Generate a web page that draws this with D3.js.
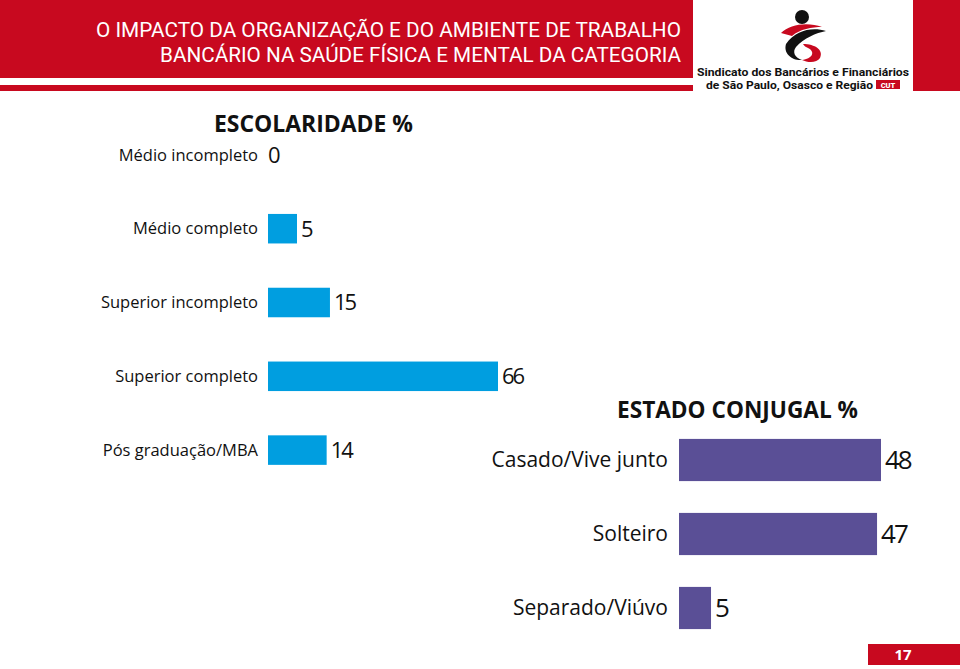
<!DOCTYPE html>
<html><head><meta charset="utf-8">
<script src="https://cdn.jsdelivr.net/npm/d3@7"></script>
<style>body{margin:0;background:#fff}svg{display:block}</style>
</head><body><svg id="c" width="960" height="669"></svg>
<script>
// ---- data ----
const headerLines = ["O IMPACTO DA ORGANIZAÇÃO E DO AMBIENTE DE TRABALHO", "BANCÁRIO NA SAÚDE FÍSICA E MENTAL DA CATEGORIA"];
const logoLines = ["Sindicato dos Bancários e Financiários", "de São Paulo, Osasco e Região"];
const eduTitle = "ESCOLARIDADE %";
const eduCategories = ["Médio incompleto", "Médio completo", "Superior incompleto", "Superior completo", "Pós graduação/MBA"];
const eduValues = [0, 5, 15, 66, 14];
const maritalTitle = "ESTADO CONJUGAL %";
const maritalCategories = ["Casado/Vive junto", "Solteiro", "Separado/Viúvo"];
const maritalValues = [48, 47, 5];
const pageNumber = "17";

const RED = "#c8091f", BLUE = "#009ee0", PURPLE = "#5a4f96";
const svg = d3.select("#c");
svg.append("rect").attr("width", 960).attr("height", 669).attr("fill", "#fff");

// ---- header ----
svg.append("rect").attr("x", 0).attr("y", 0).attr("width", 693).attr("height", 78).attr("fill", RED);
svg.append("rect").attr("x", 0).attr("y", 85).attr("width", 693).attr("height", 6).attr("fill", RED);
svg.append("rect").attr("x", 913).attr("y", 0).attr("width", 47).attr("height", 91).attr("fill", RED);
const hdrLen = [585, 521];
svg.selectAll("text.hdr").data(headerLines).join("text")
  .attr("class", "hdr")
  .attr("x", 681).attr("y", (d, i) => 37 + i * 25)
  .attr("text-anchor", "end")
  .attr("fill", "#fff")
  .attr("font-family", "Roboto, sans-serif")
  .attr("font-weight", 400)
  .attr("font-size", 20.5)
  .attr("textLength", (d, i) => hdrLen[i])
  .attr("lengthAdjust", "spacingAndGlyphs")
  .text(d => d);

// ---- logo ----
const logo = svg.append("g");
logo.append("circle").attr("cx", 802).attr("cy", 17).attr("r", 7).attr("fill", "#111");
logo.append("path").attr("fill", RED)
  .attr("d", "M781,33 C790,24 808,22 822,27 C812,27 800,29 792,36 Z");
logo.append("path").attr("fill", "#111")
  .attr("d", "M786,44 C796,30 812,27 826,31 C816,33 804,38 796,47 C792,52 795,58 802,60 C793,61 783,54 786,44 Z");
logo.append("path").attr("fill", RED)
  .attr("d", "M803,44 C815,44 824,50 820,58 C817,63 808,63 802,60 C812,59 816,52 808,48 C806,47 804,46 803,44 Z");
logo.selectAll("text.logo").data(logoLines).join("text")
  .attr("class", "logo")
  .attr("x", (d, i) => i === 0 ? 697 : 706)
  .attr("y", (d, i) => 76 + i * 13)
  .attr("fill", "#111")
  .attr("font-family", "Roboto, sans-serif")
  .attr("font-weight", 700)
  .attr("font-size", 11.5)
  .attr("textLength", (d, i) => i === 0 ? 212 : 167)
  .attr("lengthAdjust", "spacingAndGlyphs")
  .text(d => d);
logo.append("rect").attr("x", 876).attr("y", 80).attr("width", 24).attr("height", 9).attr("fill", RED);
logo.append("text").attr("x", 888).attr("y", 87.5).attr("text-anchor", "middle")
  .attr("fill", "#fff").attr("font-family", "Roboto, sans-serif").attr("font-weight", 900)
  .attr("font-size", 7.5).text("CUT");

// ---- education chart ----
const eduX = d3.scaleLinear().domain([-3.8, 66]).range([268, 498]);
const eduY = d3.scaleBand().domain(eduCategories).range([118, 487]).paddingInner(0.6).paddingOuter(0.3);
const edu = eduCategories.map((c, i) => ({ c, v: eduValues[i] }));

svg.append("text").attr("x", 214).attr("y", 132)
  .attr("font-family", "'Open Sans', sans-serif").attr("font-weight", 700).attr("font-size", 23)
  .attr("textLength", 199).attr("lengthAdjust", "spacingAndGlyphs")
  .attr("fill", "#111").text(eduTitle);

svg.selectAll("rect.edu").data(edu.filter(d => d.v > 0)).join("rect")
  .attr("class", "edu")
  .attr("x", eduX(eduX.domain()[0]))
  .attr("y", d => eduY(d.c))
  .attr("width", d => eduX(d.v) - eduX(eduX.domain()[0]))
  .attr("height", eduY.bandwidth())
  .attr("fill", BLUE);

svg.selectAll("text.eduLab").data(edu).join("text")
  .attr("class", "eduLab")
  .attr("x", 258)
  .attr("y", d => eduY(d.c) + eduY.bandwidth() / 2)
  .attr("dy", "0.35em")
  .attr("text-anchor", "end")
  .attr("font-family", "'Open Sans', sans-serif").attr("font-size", 16.5)
  .attr("fill", "#111")
  .text(d => d.c);

svg.selectAll("text.eduVal").data(edu).join("text")
  .attr("class", "eduVal")
  .attr("x", d => d.v > 0 ? eduX(d.v) + 4 : eduX(eduX.domain()[0]))
  .attr("y", d => eduY(d.c) + eduY.bandwidth() / 2)
  .attr("dy", "0.36em")
  .attr("font-family", "'Open Sans', sans-serif").attr("font-size", 22)
  .attr("letter-spacing", -2)
  .attr("fill", "#111")
  .text(d => d.v);

// ---- marital chart ----
const marX = d3.scaleLinear().domain([-3.1, 48]).range([679, 881]);
const marY = d3.scaleBand().domain(maritalCategories).range([423, 645]).paddingInner(0.43).paddingOuter(0.215);
const mar = maritalCategories.map((c, i) => ({ c, v: maritalValues[i] }));

svg.append("text").attr("x", 617).attr("y", 418)
  .attr("font-family", "'Open Sans', sans-serif").attr("font-weight", 700).attr("font-size", 24)
  .attr("textLength", 241).attr("lengthAdjust", "spacingAndGlyphs")
  .attr("fill", "#111").text(maritalTitle);

svg.selectAll("rect.mar").data(mar).join("rect")
  .attr("class", "mar")
  .attr("x", marX(marX.domain()[0]))
  .attr("y", d => marY(d.c))
  .attr("width", d => marX(d.v) - marX(marX.domain()[0]))
  .attr("height", marY.bandwidth())
  .attr("fill", PURPLE);

svg.selectAll("text.marLab").data(mar).join("text")
  .attr("class", "marLab")
  .attr("x", 668)
  .attr("y", d => marY(d.c) + marY.bandwidth() / 2)
  .attr("dy", "0.35em")
  .attr("text-anchor", "end")
  .attr("font-family", "'Open Sans', sans-serif").attr("font-size", 21)
  .attr("fill", "#111")
  .text(d => d.c);

svg.selectAll("text.marVal").data(mar).join("text")
  .attr("class", "marVal")
  .attr("x", d => marX(d.v) + 4)
  .attr("y", d => marY(d.c) + marY.bandwidth() / 2)
  .attr("dy", "0.36em")
  .attr("font-family", "'Open Sans', sans-serif").attr("font-size", 26)
  .attr("letter-spacing", -2)
  .attr("fill", "#111")
  .text(d => d.v);

// ---- page number ----
svg.append("rect").attr("x", 868).attr("y", 644).attr("width", 92).attr("height", 21).attr("fill", RED);
svg.append("text").attr("x", 903).attr("y", 660).attr("text-anchor", "middle")
  .attr("fill", "#fff").attr("font-family", "'Open Sans', sans-serif").attr("font-weight", 700)
  .attr("font-size", 15).text(pageNumber);
</script>
</body></html>
